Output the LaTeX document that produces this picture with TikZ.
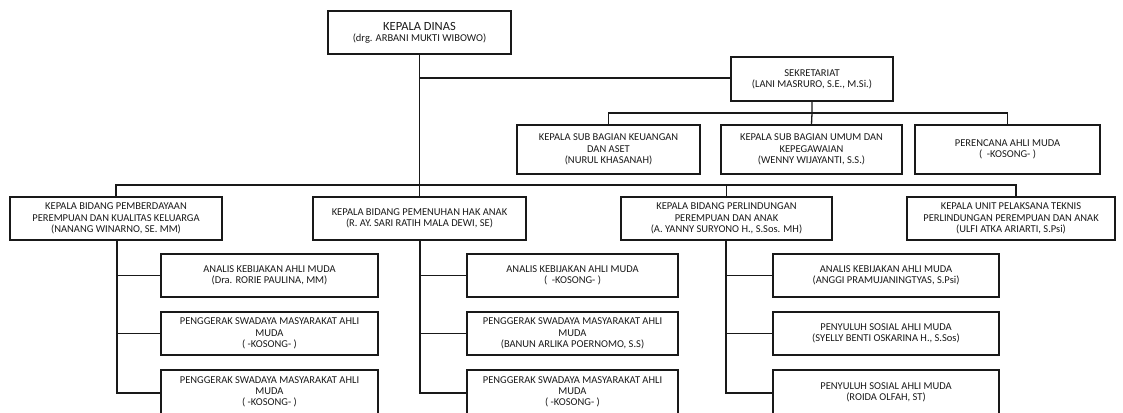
\documentclass[tikz,border=0pt]{standalone}
\usepackage{fontspec}
\setmainfont{Carlito}
\begin{document}
\begin{tikzpicture}[x=1pt,y=-1pt,
  box/.style={draw=black!90, line width=1.3pt, rectangle, inner sep=0pt, align=center,
    text=black!90, font=\fontsize{10.5}{11.3}\selectfont},
  conn/.style={draw=black!90, line width=1.3pt}]
\useasboundingbox (0,0) rectangle (1123,412);
\clip (0,0) rectangle (1123,412);
% top
\node[box, minimum width=183pt, minimum height=43pt] (kd) at (419.5,32.5)
  {{\fontsize{12.5}{13}\selectfont KEPALA DINAS}\\(drg. ARBANI MUKTI WIBOWO)};
\node[box, minimum width=162pt, minimum height=44pt] (sek) at (812,79)
  {SEKRETARIAT\\(LANI MASRURO, S.E., M.Si.)};
\node[box, minimum width=183pt, minimum height=49pt] (keu) at (608.5,149.5)
  {KEPALA SUB BAGIAN KEUANGAN\\DAN ASET\\(NURUL KHASANAH)};
\node[box, minimum width=181pt, minimum height=49pt] (umum) at (811.5,149.5)
  {KEPALA SUB BAGIAN UMUM DAN\\KEPEGAWAIAN\\(WENNY WIJAYANTI, S.S.)};
\node[box, minimum width=185pt, minimum height=49pt] (pren) at (1007.5,149.5)
  {PERENCANA AHLI MUDA\\(\ \ -KOSONG- )};
% bidang
\node[box, minimum width=212pt, minimum height=43pt] (b1) at (116,218.5)
  {KEPALA BIDANG PEMBERDAYAAN\\PEREMPUAN DAN KUALITAS KELUARGA\\(NANANG WINARNO, SE. MM)};
\node[box, minimum width=213pt, minimum height=43pt] (b2) at (419.5,218.5)
  {KEPALA BIDANG PEMENUHAN HAK ANAK\\(R. AY. SARI RATIH MALA DEWI, SE)};
\node[box, minimum width=211pt, minimum height=43pt] (b3) at (726.5,218.5)
  {KEPALA BIDANG PERLINDUNGAN\\PEREMPUAN DAN ANAK\\(A. YANNY SURYONO H., S.Sos. MH)};
\node[box, minimum width=208pt, minimum height=43pt] (b4) at (1011,218.5)
  {KEPALA UNIT PELAKSANA TEKNIS\\PERLINDUNGAN PEREMPUAN DAN ANAK\\(ULFI ATKA ARIARTI, S.Psi)};
% column 1
\node[box, minimum width=217pt, minimum height=43pt] (c1a) at (269.5,275.5)
  {ANALIS KEBIJAKAN AHLI MUDA\\(Dra. RORIE PAULINA, MM)};
\node[box, minimum width=217pt, minimum height=43pt] (c1b) at (269.5,333.5)
  {PENGGERAK SWADAYA MASYARAKAT AHLI\\MUDA\\(\ -KOSONG- )};
\node[box, minimum width=217pt, minimum height=44pt] (c1c) at (269.5,392)
  {PENGGERAK SWADAYA MASYARAKAT AHLI\\MUDA\\(\ -KOSONG- )};
% column 2
\node[box, minimum width=211pt, minimum height=43pt] (c2a) at (572.5,275.5)
  {ANALIS KEBIJAKAN AHLI MUDA\\(\ \ -KOSONG- )};
\node[box, minimum width=211pt, minimum height=43pt] (c2b) at (572.5,333.5)
  {PENGGERAK SWADAYA MASYARAKAT AHLI\\MUDA\\(BANUN ARLIKA POERNOMO, S.S)};
\node[box, minimum width=211pt, minimum height=44pt] (c2c) at (572.5,392)
  {PENGGERAK SWADAYA MASYARAKAT AHLI\\MUDA\\(\ -KOSONG- )};
% column 3
\node[box, minimum width=226pt, minimum height=43pt] (c3a) at (886,275.5)
  {ANALIS KEBIJAKAN AHLI MUDA\\(ANGGI PRAMUJANINGTYAS, S.Psi)};
\node[box, minimum width=226pt, minimum height=43pt] (c3b) at (886,333.5)
  {PENYULUH SOSIAL AHLI MUDA\\(SYELLY BENTI OSKARINA H., S.Sos)};
\node[box, minimum width=226pt, minimum height=44pt] (c3c) at (886,392)
  {PENYULUH SOSIAL AHLI MUDA\\(ROIDA OLFAH, ST)};
% junction coordinates
\coordinate (jsec) at (419.5,78);
\coordinate (jsub) at (812,113);
\coordinate (jbid) at (419.5,185);
\coordinate (jupt) at (1016,185);
\coordinate (e1) at (117,393);
\coordinate (e2) at (420,393);
\coordinate (e3) at (726,393);
% connectors
\draw[conn] (kd.south) -- (jbid);
\draw[conn] (jsec) -- (jsec -| sek.west);
\draw[conn] (sek.south) -- (jsub) -- (umum.north);
\draw[conn] (keu.north) |- (jsub) -| (pren.north);
\draw[conn] (b1.north) |- (jbid) -- (jupt) -- (jupt |- b4.north);
\draw[conn] (jbid) -- (b2.north);
\draw[conn] (b3.north) -- (b3.north |- jbid);
% column connectors
\draw[conn] (b1.south -| e1) -- (e1) -- (e1 -| c1c.west);
\draw[conn] (c1a.west -| e1) -- (c1a.west);
\draw[conn] (c1b.west -| e1) -- (c1b.west);
\draw[conn] (b2.south -| e2) -- (e2) -- (e2 -| c2c.west);
\draw[conn] (c2a.west -| e2) -- (c2a.west);
\draw[conn] (c2b.west -| e2) -- (c2b.west);
\draw[conn] (b3.south -| e3) -- (e3) -- (e3 -| c3c.west);
\draw[conn] (c3a.west -| e3) -- (c3a.west);
\draw[conn] (c3b.west -| e3) -- (c3b.west);
\end{tikzpicture}
\end{document}
